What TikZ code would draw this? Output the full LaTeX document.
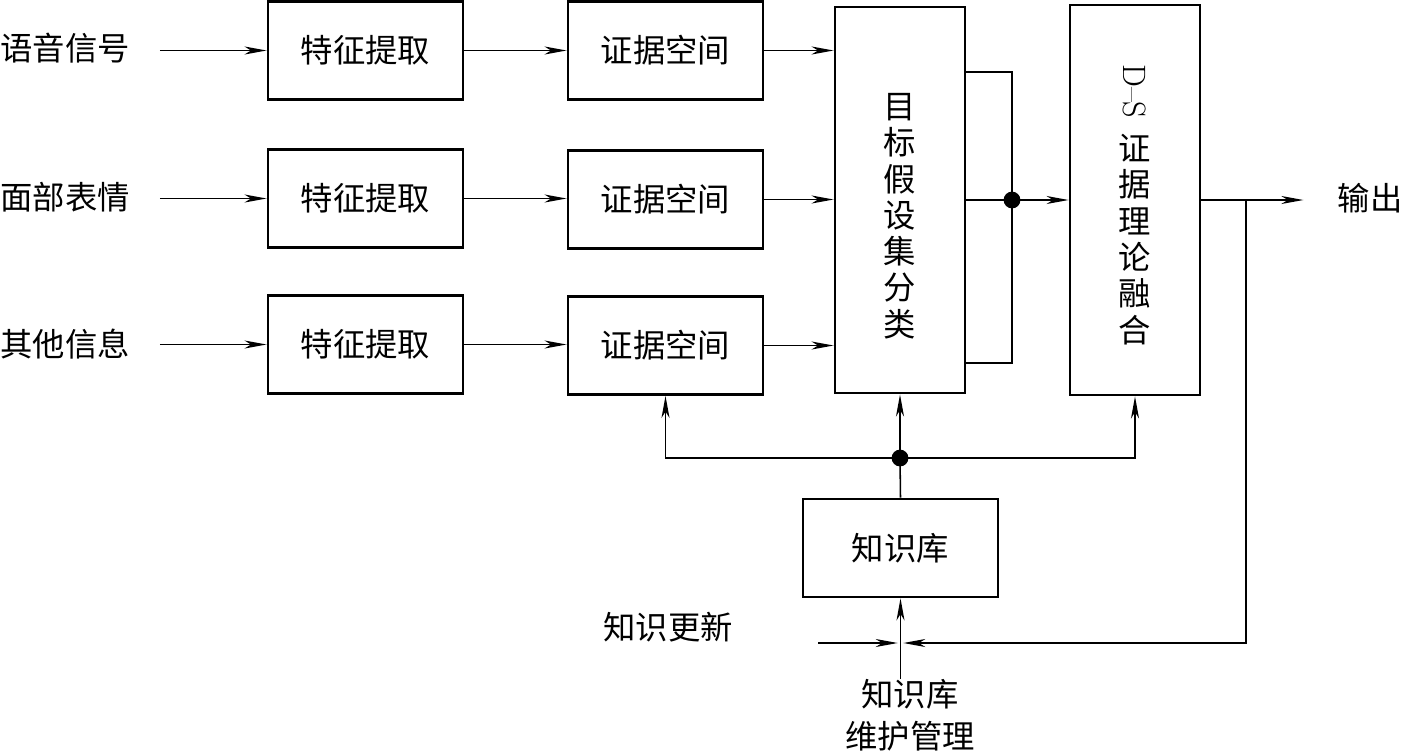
\documentclass[tikz,border=0pt]{standalone}
\usepackage{fontspec}
\newfontfamily\cjk{Noto Sans CJK SC}
\usepackage{tikz}
\usetikzlibrary{arrows.meta,calc,positioning}

\tikzset{
  blk/.style={draw,line width=2pt,minimum width=4.875cm,minimum height=2.45cm,inner sep=0pt},
  tallblk/.style={draw,line width=2pt,minimum width=3.25cm,inner sep=0pt},
  vtext/.style={inner sep=0pt,align=center,anchor=north,font=\cjk\fontsize{23}{25.8}\selectfont},
  lbl/.style={inner sep=0pt},
  flow/.style={line width=1.1pt,-{Stealth[length=5.5mm,width=2mm,inset=1.6mm]}},
  wire/.style={line width=1.1pt},
}

\begin{document}
\begin{tikzpicture}[font=\cjk\fontsize{23}{28}\selectfont,x=0.025cm,y=-0.025cm]
  \useasboundingbox (0,0) rectangle (1401,751);

  % Input channels.
  \node[lbl] (in1) at (65,48) {语音信号};
  \node[lbl] (in2) at (65,197) {面部表情};
  \node[lbl] (in3) at (65,344) {其他信息};

  \node[blk] (fe1) at (365.5,50.5) {特征提取};
  \node[blk] (fe2) at (365.5,198.5) {特征提取};
  \node[blk] (fe3) at (365.5,344.5) {特征提取};

  \node[blk] (ev1) at (665.5,50.5) {证据空间};
  \node[blk] (ev2) at (665.5,199.5) {证据空间};
  \node[blk] (ev3) at (665.5,345.5) {证据空间};

  % Classification and fusion stages (text set in columns).
  \node[tallblk,minimum height=9.65cm] (cls) at (900,200) {};
  \node[vtext] (clstxt) at (900,93) {目\\标\\假\\设\\集\\分\\类};
  \node[tallblk,minimum height=9.75cm] (ds) at (1135,200) {};
  \node[vtext,rotate=-90,anchor=west,font=\fontsize{23}{28}\selectfont] (dslbl) at (1135,64) {D--S};
  \node[vtext] (dstxt) at (1135,134) {证\\据\\理\\论\\融\\合};

  \node[blk] (kb) at (900.5,548) {知识库};
  \node[lbl] (out) at (1370,198) {输出};
  \node[lbl] (upd) at (668,627) {知识更新};
  \node[lbl,align=center] (mgmt) at (910,715)
    {知识库\\[2pt]维护管理};

  \foreach \i in {1,2,3}{
    \draw[flow,shorten <=0.75cm] (in\i.east |- fe\i.west) -- (fe\i.west);
    \draw[flow] (fe\i.east) -- (fe\i.east -| ev\i.west);
    \draw[flow] (ev\i.east) -- (ev\i.east -| cls.west);
  }

  % Joining the classifier outputs.
  \coordinate (jn) at (1012,200);
  \draw[wire] (cls.east |- 0,72) -| (jn) |- (cls.east |- 0,363);
  \draw[wire] (cls.east) -- (jn);
  \draw[flow] (jn) -- (ds.west);
  \fill (jn) circle (0.21cm);

  % Output and feedback to the knowledge base.
  \coordinate (tap) at (1246,200);
  \draw[wire] (ds.east) -- (tap);
  \draw[flow,shorten >=0.85cm] (tap) -- (out.west |- tap);
  \coordinate (mid) at (kb.south |- 0,643);
  \coordinate (updin) at (818,643);
  \draw[flow,shorten >=2pt] (tap) |- (mid);
  \draw[flow,shorten >=2pt] (updin) -- (mid);
  \draw[flow] (kb.south |- mgmt.north) -- (kb.south);

  % Knowledge base feeds the upper stages.
  \coordinate (hub) at (900,458);
  \draw[wire] (kb.north) -- (hub);
  \draw[flow] (hub) -- (cls.south);
  \draw[flow] (hub) -| (ev3.south);
  \draw[flow] (hub) -| (ds.south);
  \fill (hub) circle (0.21cm);
\end{tikzpicture}
\end{document}
